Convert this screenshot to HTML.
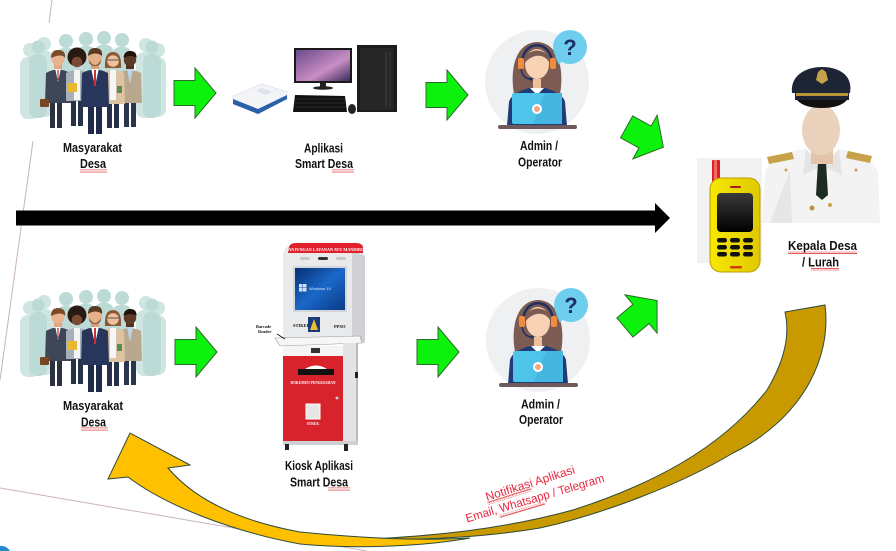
<!DOCTYPE html>
<html>
<head>
<meta charset="utf-8">
<style>
html,body{margin:0;padding:0;background:#fff;}
body{width:896px;height:551px;overflow:hidden;}
svg{display:block;}
.lbl{font-family:"Liberation Sans",sans-serif;font-weight:bold;font-size:13px;fill:#111;}
.red{font-family:"Liberation Sans",sans-serif;font-size:12px;fill:#e8273f;}
.tiny{font-family:"Liberation Serif",serif;font-weight:bold;}
</style>
</head>
<body>
<svg width="896" height="551" viewBox="0 0 896 551" xmlns="http://www.w3.org/2000/svg">
<defs>
  <pattern id="wavy" x="0" y="0" width="4" height="3" patternUnits="userSpaceOnUse">
    <path d="M0,2.2 L1,0.8 L2,2.2 L3,0.8 L4,2.2" stroke="#e03030" stroke-width="0.8" fill="none"/>
  </pattern>
  <linearGradient id="scr" x1="0" y1="0" x2="1" y2="1">
    <stop offset="0" stop-color="#6a4b8c"/><stop offset="0.6" stop-color="#c98dc4"/><stop offset="1" stop-color="#3a2a5a"/>
  </linearGradient>
  <linearGradient id="win" x1="0" y1="0" x2="1" y2="1">
    <stop offset="0" stop-color="#082f72"/><stop offset="0.5" stop-color="#1a68c8"/><stop offset="1" stop-color="#0a3a86"/>
  </linearGradient>
  <linearGradient id="ph" x1="0" y1="0" x2="1" y2="0">
    <stop offset="0" stop-color="#f7e800"/><stop offset="1" stop-color="#e0c800"/>
  </linearGradient>
  <linearGradient id="phs" x1="0" y1="0" x2="0" y2="1">
    <stop offset="0" stop-color="#3a3a3a"/><stop offset="1" stop-color="#000"/>
  </linearGradient>

  <g id="people">
    <!-- background silhouettes -->
    <g fill="#cfe5e2">
      <circle cx="30" cy="50" r="7"/><rect x="20" y="57" width="20" height="62" rx="8"/>
      <circle cx="44" cy="44" r="7"/><rect x="34" y="51" width="20" height="66" rx="8"/>
      <circle cx="146" cy="45" r="7"/><rect x="136" y="52" width="20" height="66" rx="8"/>
      <circle cx="158" cy="50" r="7"/><rect x="148" y="57" width="18" height="60" rx="8"/>
    </g>
    <g fill="#bcdad6">
      <circle cx="38" cy="47" r="6.5"/><rect x="29" y="54" width="18" height="64" rx="8"/>
      <circle cx="66" cy="41" r="7"/><rect x="56" y="48" width="20" height="50" rx="8"/>
      <circle cx="86" cy="39" r="7"/><rect x="76" y="46" width="20" height="50" rx="8"/>
      <circle cx="104" cy="38" r="7"/><rect x="94" y="45" width="20" height="50" rx="8"/>
      <circle cx="122" cy="40" r="7"/><rect x="112" y="47" width="20" height="50" rx="8"/>
      <circle cx="152" cy="47" r="6.5"/><rect x="143" y="54" width="18" height="64" rx="8"/>
    </g>
    <!-- P1 -->
    <g>
      <rect x="50" y="100" width="5" height="28" fill="#2b3140"/><rect x="57" y="100" width="5" height="28" fill="#2b3140"/>
      <path d="M46,73 Q58,66 70,73 L71,103 L45,103 Z" fill="#3c4656"/>
      <polygon points="55,68 61,68 58,82" fill="#fff"/><polygon points="57.3,70 58.7,70 58.5,80 57.5,80" fill="#b8323a"/>
      <rect x="40" y="99" width="9" height="8" rx="1" fill="#7a4525"/>
      <rect x="54" y="63" width="8" height="6" fill="#e3a882"/>
      <circle cx="58" cy="59" r="6.5" fill="#e9b48f"/>
      <path d="M51,58 Q51,50 58,50 Q66,50 65,58 Q62,53 51,58 Z" fill="#7a4a2a"/>
    </g>
    <!-- P5 -->
    <g>
      <rect x="124" y="100" width="5" height="27" fill="#2a3550"/><rect x="131" y="100" width="5" height="27" fill="#2a3550"/>
      <path d="M119,73 Q130,67 141,73 L142,103 L118,103 Z" fill="#b9a88e"/>
      <polygon points="127,69 133,69 130,84" fill="#bcd4ea"/>
      <rect x="126" y="63" width="8" height="6" fill="#54321f"/>
      <circle cx="130" cy="60" r="6.2" fill="#5e3a26"/>
      <path d="M123.5,58 Q124,51 130,51 Q137,51 136.5,58 Q130,54 123.5,58 Z" fill="#1e120b"/>
    </g>
    <!-- P2 -->
    <g>
      <rect x="71" y="99" width="5" height="27" fill="#263246"/><rect x="78" y="99" width="5" height="27" fill="#263246"/>
      <path d="M66,73 Q77,67 88,73 L88,101 L66,101 Z" fill="#a6b0bb"/>
      <rect x="74" y="70" width="6" height="30" fill="#f4f4f4"/>
      <rect x="67" y="83" width="10" height="9" fill="#e8b830"/>
      <circle cx="77" cy="57" r="9.5" fill="#2a1a12"/>
      <circle cx="77" cy="62" r="5.3" fill="#7b4a32"/>
    </g>
    <!-- P4 -->
    <g>
      <rect x="107" y="101" width="5" height="27" fill="#26304a"/><rect x="114" y="101" width="5" height="27" fill="#26304a"/>
      <path d="M102,73 Q113,67 124,73 L125,104 L101,104 Z" fill="#dcc4a2"/>
      <rect x="110" y="70" width="6" height="30" fill="#f6f6f6"/>
      <rect x="117" y="86" width="5" height="7" fill="#5a8a5a"/>
      <path d="M105,68 Q104,52 113,52 Q122,52 121,68 Z" fill="#8a5a36"/>
      <circle cx="113" cy="61" r="5.8" fill="#f0c09c"/>
      <path d="M107,60 h12" stroke="#555" stroke-width="1"/>
    </g>
    <!-- P3 center -->
    <g>
      <rect x="88" y="104" width="6" height="30" fill="#1f2b48"/><rect x="96" y="104" width="6" height="30" fill="#1f2b48"/>
      <path d="M82,73 Q95,66 108,73 L109,107 L81,107 Z" fill="#27365a"/>
      <polygon points="91,68 99,68 95,86" fill="#fff"/><polygon points="94,70 96,70 96,86 94,86" fill="#c8323a"/>
      <rect x="91" y="63" width="8" height="6" fill="#d9a07c"/>
      <circle cx="95" cy="58" r="7" fill="#e6b08a"/>
      <path d="M88,56 Q88,48 95,48 Q103,48 102,56 Q96,51 88,56 Z" fill="#5a3a22"/>
      <path d="M89,60 Q95,70 101,60 Q101,66 95,66 Q89,66 89,60 Z" fill="#8a5a3a"/>
    </g>
  </g>

  <g id="admin">
    <circle cx="0" cy="0" r="52" fill="#eef0f2"/>
    <path d="M-23,12 C-27,-10 -23,-39 0,-40 C23,-39 27,-10 23,12 Z" fill="#7b5b52"/>
    <path d="M-30,44 L-28,20 C-26,12 -15,8 -8,6 L8,6 C15,8 26,12 28,20 L30,44 Z" fill="#1f3c78"/>
    <polygon points="-7,6 0,13 7,6" fill="#fff"/>
    <rect x="-4" y="-3" width="8" height="9" fill="#f0bf9c"/>
    <ellipse cx="0" cy="-18" rx="12" ry="15" fill="#f7d2b5"/>
    <path d="M-13,-18 C-13,-36 13,-36 13,-18 C9,-28 -4,-30 -13,-18 Z" fill="#7b5b52"/>
    <path d="M-15,-18 C-15,-43 15,-43 15,-18" stroke="#1f2f66" stroke-width="2.5" fill="none"/>
    <rect x="-19" y="-24" width="6" height="11" rx="2" fill="#f08c3c"/>
    <rect x="13" y="-24" width="6" height="11" rx="2" fill="#f08c3c"/>
    <path d="M-16,-13 Q-14,-3 -6,-3" stroke="#1f2f66" stroke-width="1.5" fill="none"/>
    <circle cx="-6" cy="-3" r="1.6" fill="#1f2f66"/>
    <rect x="-25" y="11" width="50" height="31" rx="2" fill="#4fc4ea"/>
    <polygon points="8,11 25,11 25,42 -4,42" fill="#44b6df"/>
    <circle cx="0" cy="27" r="5" fill="#fff"/><circle cx="0" cy="27" r="3" fill="#f0a888"/>
    <rect x="-39" y="43" width="79" height="4" rx="2" fill="#6e5a5a"/>
    <polygon points="18,-26 27,-24 22,-17" fill="#6fcdee"/>
    <circle cx="33" cy="-35" r="17" fill="#6fcdee"/>
    <text x="33" y="-27" text-anchor="middle" font-family="Liberation Sans, sans-serif" font-weight="bold" font-size="22" fill="#1b2d6b">?</text>
  </g>

  <polygon id="garrow" points="-21,-12.5 0,-12.5 0,-25 21,0 0,25 0,12.5 -21,12.5" fill="#0cf20c" stroke="#2b6a2b" stroke-width="1"/>
</defs>

<rect x="0" y="0" width="896" height="551" fill="#fff"/>

<!-- thin decorative lines -->
<line x1="52" y1="0" x2="49" y2="23" stroke="#c8b4c0" stroke-width="1"/>
<line x1="33" y1="141" x2="0" y2="380" stroke="#c8b4c0" stroke-width="1"/>
<line x1="0" y1="488" x2="367" y2="551" stroke="#c8b4c0" stroke-width="1"/>
<path d="M0,546 Q6,545 10,551 L0,551 Z" fill="#2a8ad0"/>

<!-- people -->
<use href="#people"/>
<use href="#people" transform="translate(0,258)"/>

<!-- computer -->
<g>
  <polygon points="233,96 262,84 287,92 287,99 258,114 233,104" fill="#f2f4f8" stroke="#d6dae2" stroke-width="0.6"/>
  <polygon points="233,99 258,109 287,95 287,99 258,114 233,104" fill="#2a5faa"/>
  <polygon points="262,88 272,92 266,95 256,91" fill="#dde2ea"/>
  <rect x="294" y="48" width="58" height="35" fill="#1a1a1a"/>
  <rect x="296" y="50" width="54" height="31" fill="url(#scr)"/>
  <rect x="320" y="83" width="6" height="4" fill="#222"/>
  <ellipse cx="323" cy="88" rx="10" ry="1.8" fill="#222"/>
  <rect x="357" y="45" width="40" height="67" fill="#1c1c1c"/>
  <rect x="360" y="48" width="34" height="62" fill="#262626"/>
  <line x1="386" y1="52" x2="386" y2="106" stroke="#444" stroke-width="1"/>
  <line x1="390" y1="52" x2="390" y2="106" stroke="#3a3a3a" stroke-width="1"/>
  <polygon points="295,95 345,96 347,112 293,112" fill="#111"/>
  <g stroke="#444" stroke-width="0.6">
    <line x1="296" y1="99" x2="345" y2="99"/><line x1="295" y1="103" x2="346" y2="103"/><line x1="295" y1="107" x2="346" y2="107"/>
  </g>
  <ellipse cx="352" cy="109" rx="4" ry="5" fill="#222"/>
</g>

<!-- admins -->
<use href="#admin" transform="translate(537,82)"/>
<use href="#admin" transform="translate(538,340)"/>

<!-- kiosk -->
<g>
  <path d="M283,343 L283,256 Q283,247 292,245 L352,245 Q361,247 365,256 L365,343 Z" fill="#e9eaec"/>
  <path d="M352,250 L365,256 L365,343 L352,343 Z" fill="#cfd1d4"/>
  <path d="M288,253 L289,247 Q290,243 296,243 L356,243 Q362,243 363,247 L363,253 Z" fill="#e0202a"/>
  <text x="325.5" y="251" text-anchor="middle" class="tiny" font-size="4.2" fill="#fff">ANJUNGAN LAYANAN AVU MANDIRI</text>
  <rect x="300" y="257" width="10" height="3" rx="1.5" fill="#c8c8c8"/><rect x="318" y="257" width="10" height="3" rx="1.5" fill="#333"/><rect x="336" y="257" width="10" height="3" rx="1.5" fill="#c8c8c8"/>
  <rect x="293" y="266" width="54" height="46" fill="#d4d5d8"/>
  <rect x="295" y="268" width="50" height="42" fill="url(#win)"/>
  <g fill="#e8f0ff" opacity="0.9">
    <rect x="299" y="284" width="3.5" height="3.5"/><rect x="303" y="284" width="3.5" height="3.5"/><rect x="299" y="288" width="3.5" height="3.5"/><rect x="303" y="288" width="3.5" height="3.5"/>
  </g>
  <text x="309" y="290" font-family="Liberation Sans, sans-serif" font-size="4" fill="#dfe8ff">Windows 10</text>
  <text x="293" y="327" class="tiny" font-size="4.5" fill="#111">STIKER</text>
  <rect x="308" y="317" width="12" height="15" fill="#1a3a7a"/>
  <polygon points="310,330 314,319 318,330" fill="#e8c030"/>
  <text x="334" y="328" class="tiny" font-size="4.5" fill="#111">PPSO</text>
  <polygon points="275,338 360,336 362,343 280,346" fill="#f6f6f7" stroke="#9a9a9a" stroke-width="0.6"/>
  <text x="256" y="328" class="tiny" font-size="4.3" fill="#111">Barcode</text>
  <text x="258" y="333" class="tiny" font-size="4.3" fill="#111">Reader</text>
  <line x1="277" y1="334" x2="285" y2="339" stroke="#111" stroke-width="0.9"/>
  <rect x="283" y="346" width="60" height="10" fill="#f4f4f5"/>
  <rect x="311" y="348" width="9" height="5" fill="#333"/>
  <rect x="343" y="343" width="15" height="99" fill="#e3e4e6"/>
  <rect x="356" y="343" width="2" height="99" fill="#b9bbbe"/>
  <rect x="355" y="372" width="3" height="6" fill="#222"/>
  <rect x="283" y="356" width="60" height="86" fill="#d8222c"/>
  <path d="M305,369 Q316,362 327,369 Z" fill="#fff"/>
  <rect x="298" y="369" width="36" height="6" fill="#111"/>
  <text x="313" y="384" text-anchor="middle" class="tiny" font-size="3.6" fill="#fff">DOKUMEN PENGESAHAN</text>
  <rect x="306" y="404" width="14" height="15" fill="#e6e6e6" stroke="#fff" stroke-width="1"/>
  <text x="313" y="425" text-anchor="middle" class="tiny" font-size="3.6" fill="#fff">STRUK</text>
  <circle cx="337" cy="398" r="1.5" fill="#c8c8c8"/>
  <rect x="283" y="441" width="75" height="4" fill="#cfd0d2"/>
  <rect x="285" y="444" width="4" height="6" fill="#222"/>
  <rect x="344" y="444" width="4" height="7" fill="#222"/>
</g>

<!-- official -->
<g>
  <path d="M765,172 C770,156 790,150 806,149 L822,166 L839,149 C856,151 872,158 878,172 L880,223 L762,223 Z" fill="#f3f3f3"/>
  <path d="M822,166 L806,149 L803,175 Z" fill="#e4e4e4"/>
  <path d="M822,166 L839,149 L842,175 Z" fill="#e4e4e4"/>
  <path d="M790,170 L792,223 L770,223 Z" fill="#e6e6e6"/>
  <polygon points="818,162 826,162 828,195 822,200 816,195" fill="#1e2b22"/>
  <polygon points="767,157 792,152 794,159 769,164" fill="#c7a24a"/>
  <polygon points="848,151 872,156 870,163 846,158" fill="#c7a24a"/>
  <circle cx="786" cy="170" r="1.5" fill="#c7a24a"/><circle cx="856" cy="170" r="1.5" fill="#c7a24a"/>
  <circle cx="830" cy="205" r="2" fill="#c7a24a"/><circle cx="812" cy="208" r="2.5" fill="#b8943e"/>
  <rect x="811" y="148" width="22" height="16" fill="#e3c4ab"/>
  <ellipse cx="821" cy="130" rx="19" ry="25" fill="#ead2bd"/>
  <path d="M792,93 C790,76 805,67 822,67 C840,67 853,76 850,93 Z" fill="#1d2535"/>
  <path d="M818,72 L822,69 L826,72 L828,80 L822,84 L816,80 Z" fill="#c8a24a"/>
  <rect x="795" y="91" width="54" height="9" fill="#1d2535"/>
  <rect x="796" y="93" width="52" height="3" fill="#b8953d"/>
  <path d="M797,100 L847,100 Q840,108 822,108 Q804,108 797,100 Z" fill="#111"/>
</g>

<!-- phone -->
<g>
  <rect x="697" y="158" width="65" height="105" fill="#f2f2f2"/>
  <rect x="712" y="160" width="8" height="26" rx="1" fill="#e02020"/>
  <rect x="714" y="160" width="3" height="24" fill="#f26a6a"/>
  <rect x="710" y="178" width="50" height="94" rx="11" fill="url(#ph)" stroke="#b89e00" stroke-width="1"/>
  <rect x="730" y="186" width="11" height="2" rx="1" fill="#a02020"/>
  <rect x="717" y="193" width="36" height="39" rx="4" fill="url(#phs)"/>
  <g fill="#111">
    <rect x="717" y="238" width="10" height="4.5" rx="2.2"/><rect x="730" y="238" width="10" height="4.5" rx="2.2"/><rect x="743" y="238" width="10" height="4.5" rx="2.2"/>
    <rect x="717" y="245" width="10" height="4.5" rx="2.2"/><rect x="730" y="245" width="10" height="4.5" rx="2.2"/><rect x="743" y="245" width="10" height="4.5" rx="2.2"/>
    <rect x="717" y="252" width="10" height="4.5" rx="2.2"/><rect x="730" y="252" width="10" height="4.5" rx="2.2"/><rect x="743" y="252" width="10" height="4.5" rx="2.2"/>
  </g>
  <rect x="730" y="266" width="12" height="2.5" rx="1" fill="#d04010"/>
</g>

<!-- black arrow -->
<rect x="16" y="210.5" width="640" height="15" fill="#000"/>
<polygon points="655,203 670,218 655,233" fill="#000"/>

<!-- green arrows -->
<use href="#garrow" transform="translate(195,93)"/>
<use href="#garrow" transform="translate(447,95)"/>
<use href="#garrow" transform="translate(196,352)"/>
<use href="#garrow" transform="translate(438,352)"/>
<use href="#garrow" transform="translate(645,137) rotate(29)"/>
<use href="#garrow" transform="translate(641,314) rotate(-40)"/>

<!-- curved arrow: dark back part -->
<path d="M785,312 L825,305 C832,360 800,420 733,453 C680,485 600,515 540,528 C480,538 420,540 370,539 C430,536 500,530 573,510 C650,485 720,450 767,390 C785,360 790,335 785,312 Z" fill="#c99a00" stroke="#2d4a3a" stroke-width="1"/>
<!-- curved arrow: yellow front part -->
<path d="M128,477 C165,505 230,531 300,544 C350,549 420,547 470,538 C420,541 360,538 300,532 C240,521 195,500 168,468 L190,465 L130,433 L108,479 Z" fill="#ffc000" stroke="#2d4a3a" stroke-width="1"/>

<!-- labels -->
<text class="lbl" x="63" y="152" textLength="59" lengthAdjust="spacingAndGlyphs">Masyarakat</text>
<text class="lbl" x="80" y="168" textLength="26" lengthAdjust="spacingAndGlyphs">Desa</text>
<rect x="80" y="169.5" width="27" height="3" fill="url(#wavy)"/>

<text class="lbl" x="304" y="152.5" textLength="39" lengthAdjust="spacingAndGlyphs">Aplikasi</text>
<text class="lbl" x="295" y="168" textLength="58" lengthAdjust="spacingAndGlyphs">Smart Desa</text>
<rect x="332" y="169.5" width="22" height="3" fill="url(#wavy)"/>

<text class="lbl" x="520" y="150" textLength="38" lengthAdjust="spacingAndGlyphs">Admin /</text>
<text class="lbl" x="518" y="166.5" textLength="44" lengthAdjust="spacingAndGlyphs">Operator</text>

<text class="lbl" x="788" y="250" textLength="69" lengthAdjust="spacingAndGlyphs">Kepala Desa</text>
<rect x="788" y="251" width="69" height="3" fill="url(#wavy)"/>
<text class="lbl" x="802" y="266.5" textLength="37" lengthAdjust="spacingAndGlyphs">/ Lurah</text>
<rect x="811" y="268" width="28" height="3" fill="url(#wavy)"/>

<text class="lbl" x="63" y="410" textLength="60" lengthAdjust="spacingAndGlyphs">Masyarakat</text>
<text class="lbl" x="81" y="426.5" textLength="25" lengthAdjust="spacingAndGlyphs">Desa</text>
<rect x="81" y="427.5" width="27" height="3" fill="url(#wavy)"/>

<text class="lbl" x="285" y="470" textLength="68" lengthAdjust="spacingAndGlyphs">Kiosk Aplikasi</text>
<text class="lbl" x="290" y="486.5" textLength="58" lengthAdjust="spacingAndGlyphs">Smart Desa</text>
<rect x="328" y="487.5" width="22" height="3" fill="url(#wavy)"/>

<text class="lbl" x="521" y="408.5" textLength="39" lengthAdjust="spacingAndGlyphs">Admin /</text>
<text class="lbl" x="519" y="424" textLength="44" lengthAdjust="spacingAndGlyphs">Operator</text>

<!-- red notification text -->
<g transform="translate(487,501) rotate(-17.5)">
  <text class="red" x="0" y="0" textLength="93" lengthAdjust="spacingAndGlyphs">Notifikasi Aplikasi</text>
  <rect x="0" y="1" width="46" height="3" fill="url(#wavy)"/>
</g>
<g transform="translate(467,522.5) rotate(-16.5)">
  <text class="red" x="0" y="0" textLength="144" lengthAdjust="spacingAndGlyphs">Email, Whatsapp / Telegram</text>
  <rect x="33" y="2" width="47" height="3" fill="url(#wavy)"/>
</g>
</svg>
</body>
</html>
